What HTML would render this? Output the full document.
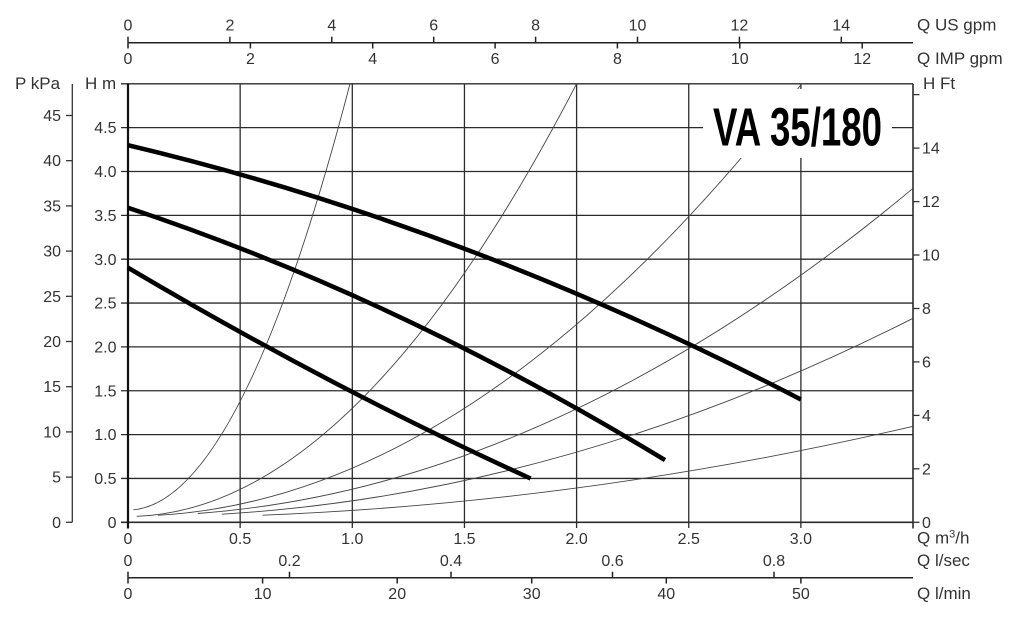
<!DOCTYPE html>
<html><head><meta charset="utf-8"><style>html,body{margin:0;padding:0;background:#fff;}svg{display:block;}</style></head>
<body>
<svg width="1024" height="624" viewBox="0 0 1024 624" xmlns="http://www.w3.org/2000/svg" font-family="'Liberation Sans', Arial, sans-serif" font-size="16" fill="#333">
<rect x="0" y="0" width="1024" height="624" fill="#fff"/>
<!-- grid horizontal -->
<g stroke="#2b2b2b" stroke-width="1.3" fill="none">
<line x1="121" y1="83.8" x2="913" y2="83.8"/>
<line x1="121" y1="127.65" x2="913" y2="127.65"/>
<line x1="121" y1="171.5" x2="913" y2="171.5"/>
<line x1="121" y1="215.35" x2="913" y2="215.35"/>
<line x1="121" y1="259.2" x2="913" y2="259.2"/>
<line x1="121" y1="303.05" x2="913" y2="303.05"/>
<line x1="121" y1="346.9" x2="913" y2="346.9"/>
<line x1="121" y1="390.75" x2="913" y2="390.75"/>
<line x1="121" y1="434.6" x2="913" y2="434.6"/>
<line x1="121" y1="478.45" x2="913" y2="478.45"/>
<line x1="121" y1="522.3" x2="913" y2="522.3" stroke-width="1.6"/>
<!-- vertical -->
<line x1="240.15" y1="83.8" x2="240.15" y2="528"/>
<line x1="352.3" y1="83.8" x2="352.3" y2="528"/>
<line x1="464.45" y1="83.8" x2="464.45" y2="528"/>
<line x1="576.6" y1="83.8" x2="576.6" y2="528"/>
<line x1="688.75" y1="83.8" x2="688.75" y2="528"/>
<line x1="800.9" y1="83.8" x2="800.9" y2="528"/>
<line x1="913" y1="83.8" x2="913" y2="528.5" stroke-width="1.6"/>
<line x1="128" y1="83.8" x2="128" y2="528.5" stroke="#111" stroke-width="2.2"/>
</g>
<!-- system curves -->
<g stroke="#444" stroke-width="0.9" fill="none">
<path d="M133.4,509.8 Q241.7,499.7 350.0,83.8"/>
<path d="M136.7,516.3 Q356.65,508.0 576.6,83.8"/>
<path d="M157.8,515.3 Q479.7,497.0 801.7,83.8"/>
<path d="M197.8,513.5 Q555.4,486.5 913.05,188.3"/>
<path d="M221.8,514.2 Q567.4,493.3 913.05,318.3"/>
<path d="M262.6,515.2 Q587.8,502.2 913.05,426.3"/>
</g>
<!-- title box -->
<rect x="703" y="89" width="189" height="69" fill="#fff"/>
<text x="713" y="145.5" font-size="54" font-weight="bold" fill="#000" textLength="169" lengthAdjust="spacingAndGlyphs">VA 35/180</text>
<!-- pump curves -->
<g stroke="#000" stroke-width="4.5" fill="none">
<path d="M128,145.2 Q464.5,225.0 800.9,399.5"/>
<path d="M128,207.7 Q396.5,297.0 665.0,460.1"/>
<path d="M128,267.7 Q329.3,386.9 530.6,478.5"/>
</g>
<!-- left kPa axis -->
<g stroke="#333" stroke-width="1.3">
<line x1="72.3" y1="84" x2="72.3" y2="522.3"/>
<line x1="66" y1="115.5" x2="72.3" y2="115.5"/>
<line x1="66" y1="160.7" x2="72.3" y2="160.7"/>
<line x1="66" y1="205.9" x2="72.3" y2="205.9"/>
<line x1="66" y1="251.1" x2="72.3" y2="251.1"/>
<line x1="66" y1="296.3" x2="72.3" y2="296.3"/>
<line x1="66" y1="341.5" x2="72.3" y2="341.5"/>
<line x1="66" y1="386.7" x2="72.3" y2="386.7"/>
<line x1="66" y1="431.9" x2="72.3" y2="431.9"/>
<line x1="66" y1="477.1" x2="72.3" y2="477.1"/>
<line x1="66" y1="522.3" x2="72.3" y2="522.3"/>
</g>
<g text-anchor="end">
<text x="61" y="121">45</text>
<text x="61" y="166.2">40</text>
<text x="61" y="211.4">35</text>
<text x="61" y="256.6">30</text>
<text x="61" y="301.8">25</text>
<text x="61" y="347">20</text>
<text x="61" y="392.2">15</text>
<text x="61" y="437.4">10</text>
<text x="61" y="482.6">5</text>
<text x="61" y="527.8">0</text>
<text x="116.5" y="133.2">4.5</text>
<text x="116.5" y="177.1">4.0</text>
<text x="116.5" y="220.9">3.5</text>
<text x="116.5" y="264.8">3.0</text>
<text x="116.5" y="308.6">2.5</text>
<text x="116.5" y="352.5">2.0</text>
<text x="116.5" y="396.3">1.5</text>
<text x="116.5" y="440.2">1.0</text>
<text x="116.5" y="484">0.5</text>
<text x="116.5" y="527.9">0</text>
</g>
<g font-size="17">
<text x="15" y="89">P kPa</text>
<text x="85" y="89">H m</text>
<text x="923" y="89">H Ft</text>
<text x="917" y="30.5">Q US gpm</text>
<text x="917" y="64">Q IMP gpm</text>
<text x="917" y="543.5">Q m<tspan font-size="11" dy="-6">3</tspan><tspan dy="6">/h</tspan></text>
<text x="917" y="566">Q l/sec</text>
<text x="917" y="599">Q l/min</text>
</g>
<!-- right H Ft -->
<g stroke="#333" stroke-width="1.3">
<line x1="913" y1="94.6" x2="919.5" y2="94.6"/>
<line x1="913" y1="148.1" x2="919.5" y2="148.1"/>
<line x1="913" y1="201.6" x2="919.5" y2="201.6"/>
<line x1="913" y1="255.0" x2="919.5" y2="255.0"/>
<line x1="913" y1="308.5" x2="919.5" y2="308.5"/>
<line x1="913" y1="361.9" x2="919.5" y2="361.9"/>
<line x1="913" y1="415.4" x2="919.5" y2="415.4"/>
<line x1="913" y1="468.8" x2="919.5" y2="468.8"/>
<line x1="913" y1="522.3" x2="919.5" y2="522.3"/>
</g>
<text x="922" y="153.7">14</text>
<text x="922" y="207.2">12</text>
<text x="922" y="260.6">10</text>
<text x="922" y="314.1">8</text>
<text x="922" y="367.5">6</text>
<text x="922" y="421">4</text>
<text x="922" y="474.4">2</text>
<text x="922" y="527.9">0</text>
<!-- top axes -->
<g stroke="#222" stroke-width="1.5">
<line x1="128" y1="42.7" x2="913" y2="42.7"/>
<line x1="128" y1="36.7" x2="128" y2="42.7"/>
<line x1="229.9" y1="36.7" x2="229.9" y2="42.7"/>
<line x1="331.8" y1="36.7" x2="331.8" y2="42.7"/>
<line x1="433.7" y1="36.7" x2="433.7" y2="42.7"/>
<line x1="535.6" y1="36.7" x2="535.6" y2="42.7"/>
<line x1="637.5" y1="36.7" x2="637.5" y2="42.7"/>
<line x1="739.4" y1="36.7" x2="739.4" y2="42.7"/>
<line x1="841.3" y1="36.7" x2="841.3" y2="42.7"/>
<line x1="128" y1="42.7" x2="128" y2="48.5"/>
<line x1="250.4" y1="42.7" x2="250.4" y2="48.5"/>
<line x1="372.7" y1="42.7" x2="372.7" y2="48.5"/>
<line x1="495.1" y1="42.7" x2="495.1" y2="48.5"/>
<line x1="617.4" y1="42.7" x2="617.4" y2="48.5"/>
<line x1="739.8" y1="42.7" x2="739.8" y2="48.5"/>
<line x1="862.2" y1="42.7" x2="862.2" y2="48.5"/>
</g>
<g text-anchor="middle">
<text x="128" y="30.7">0</text>
<text x="229.9" y="30.7">2</text>
<text x="331.8" y="30.7">4</text>
<text x="433.7" y="30.7">6</text>
<text x="535.6" y="30.7">8</text>
<text x="637.5" y="30.7">10</text>
<text x="739.4" y="30.7">12</text>
<text x="841.3" y="30.7">14</text>
<text x="128" y="64">0</text>
<text x="250.4" y="64">2</text>
<text x="372.7" y="64">4</text>
<text x="495.1" y="64">6</text>
<text x="617.4" y="64">8</text>
<text x="739.8" y="64">10</text>
<text x="862.2" y="64">12</text>
</g>
<!-- bottom axes -->
<g text-anchor="middle">
<text x="128" y="544">0</text>
<text x="240.15" y="544">0.5</text>
<text x="352.3" y="544">1.0</text>
<text x="464.45" y="544">1.5</text>
<text x="576.6" y="544">2.0</text>
<text x="688.75" y="544">2.5</text>
<text x="800.9" y="544">3.0</text>
<text x="128" y="566">0</text>
<text x="289.5" y="566">0.2</text>
<text x="451" y="566">0.4</text>
<text x="612.5" y="566">0.6</text>
<text x="774" y="566">0.8</text>
<text x="128" y="599">0</text>
<text x="262.6" y="599">10</text>
<text x="397.2" y="599">20</text>
<text x="531.7" y="599">30</text>
<text x="666.3" y="599">40</text>
<text x="800.9" y="599">50</text>
</g>
<g stroke="#222" stroke-width="1.5">
<line x1="128" y1="577.7" x2="913" y2="577.7"/>
<line x1="128" y1="571.7" x2="128" y2="583.5"/>
<line x1="289.5" y1="571.7" x2="289.5" y2="577.7"/>
<line x1="451" y1="571.7" x2="451" y2="577.7"/>
<line x1="612.5" y1="571.7" x2="612.5" y2="577.7"/>
<line x1="774" y1="571.7" x2="774" y2="577.7"/>
<line x1="262.6" y1="577.7" x2="262.6" y2="583.5"/>
<line x1="397.2" y1="577.7" x2="397.2" y2="583.5"/>
<line x1="531.7" y1="577.7" x2="531.7" y2="583.5"/>
<line x1="666.3" y1="577.7" x2="666.3" y2="583.5"/>
<line x1="800.9" y1="577.7" x2="800.9" y2="583.5"/>
</g>
</svg>
</body></html>
